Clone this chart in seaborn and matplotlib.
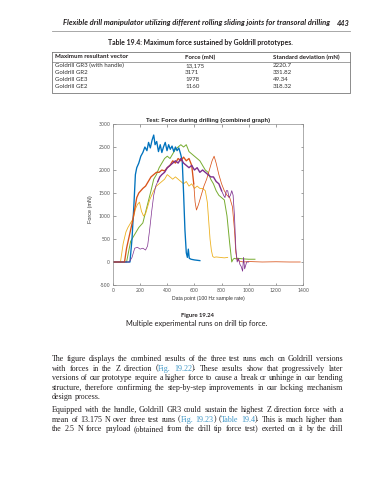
import matplotlib
matplotlib.use("Agg")
import matplotlib.pyplot as plt
import seaborn as sns

#%% page text
header_title = "Flexible drill manipulator utilizing different rolling sliding joints for transoral drilling"
page_number = "443"
table_title = "Table 19.4: Maximum force sustained by Goldrill prototypes."
table_columns = ["Maximum resultant vector", "Force (mN)", "Standard deviation (mN)"]
prototypes = ["Goldrill GR3 (with handle)", "Goldrill GR2", "Goldrill GE3", "Goldrill GE2"]
max_force = ["13,175", "3171", "1978", "1160"]
std_dev = ["2220.7", "331.82", "49.34", "318.32"]

chart_title = "Test: Force during drilling (combined graph)"
x_label = "Data point (100 Hz sample rate)"
y_label = "Force (mN)"
x_ticks = [0, 200, 400, 600, 800, 1000, 1200, 1400]
y_ticks = [-500, 0, 500, 1000, 1500, 2000, 2500, 3000]

fig_label = "Figure 19.24"
fig_caption = "Multiple experimental runs on drill tip force."

# [ ] marks the blue cross-reference links
para1 = ["The figure displays the combined results of the three test runs each on Goldrill versions",
         "with forces in the Z direction ([Fig. 19.22]). These results show that progressively later",
         "versions of our prototype require a higher force to cause a break or unhinge in our bending",
         "structure, therefore confirming the step-by-step improvements in our locking mechanism",
         "design process."]
para2 = ["Equipped with the handle, Goldrill GR3 could sustain the highest Z direction force with a",
         "mean of 13.175 N over three test runs ([Fig. 19.23]) ([Table 19.4]). This is much higher than",
         "the 2.5 N force payload (obtained from the drill tip force test) exerted on it by the drill"]

#%% drill runs
blue_x = [0, 125, 140, 155, 165, 175, 190, 205, 220, 235, 250, 262, 275, 288, 300, 310, 322, 335, 348,
          360, 372, 385, 398, 410, 422, 435, 448, 460, 472, 485, 498, 510, 520, 530, 540, 548, 555,
          562, 575, 600, 640]
blue_y = [0, 0, 500, 1300, 1900, 2050, 2150, 2300, 2380, 2500, 2420, 2600, 2480, 2650, 2760, 2550,
          2620, 2400, 2550, 2380, 2500, 2600, 2420, 2550, 2450, 2520, 2400, 2500, 2420, 2480, 2350,
          2200, 1500, 700, 200, 100, 280, 80, 60, 45, 30]

orange_x = [0, 85, 100, 115, 130, 145, 160, 175, 190, 205, 220, 240, 260, 280, 300, 320, 340, 360,
            380, 400, 420, 440, 460, 480, 500, 520, 540, 560, 580, 595, 605, 615, 630, 650, 670, 690,
            710, 730, 745, 760, 780, 800, 820, 840, 860, 880, 895, 905, 915, 930, 960, 1000, 1100,
            1200, 1300, 1380]
orange_y = [0, 0, 300, 500, 700, 900, 1150, 1400, 1500, 1550, 1600, 1650, 1750, 1850, 1900, 1950,
            1950, 2000, 1980, 2050, 2100, 2200, 2150, 2250, 2200, 2280, 2200, 2250, 2100, 1700, 1300,
            1130, 1250, 1450, 1650, 1800, 2000, 2200, 2300, 2150, 1900, 1700, 1550, 1450, 1400, 1200,
            700, 200, 50, 20, 0, 10, 0, 5, 0, 0]

yellow_x = [0, 55, 75, 95, 110, 130, 150, 165, 180, 195, 210, 225, 240, 255, 270, 285, 300, 320, 340,
            360, 380, 400, 420, 440, 460, 480, 500, 520, 540, 560, 580, 600, 620, 640, 660, 680, 695,
            705, 715, 725, 735, 745, 760, 790, 820, 845]
yellow_y = [0, 0, 400, 650, 750, 850, 950, 1150, 1250, 1300, 1100, 1000, 1050, 1200, 1350, 1450,
            1550, 1650, 1700, 1750, 1800, 1900, 1850, 1800, 1850, 1800, 1750, 1700, 1750, 1650, 1700,
            1600, 1650, 1600, 1600, 1550, 1300, 900, 500, 250, 120, 100, 110, 100, 90, 100]

purple_x = [0, 120, 140, 160, 180, 200, 220, 240, 255, 270, 285, 300, 315, 330, 345, 360, 380, 400,
            420, 440, 460, 480, 500, 520, 540, 560, 580, 600, 620, 640, 660, 680, 700, 720, 740, 760,
            780, 800, 815, 825, 835, 845, 855, 865, 875, 885, 895, 905, 915, 925, 935, 945, 955, 962,
            970, 985, 1000]
purple_y = [0, 0, 100, 300, 320, 280, 300, 260, 350, 700, 1100, 1450, 1650, 1750, 1850, 1900, 1950,
            2050, 2100, 2150, 2200, 2150, 2250, 2150, 2100, 2050, 2100, 2000, 2050, 1950, 2000, 1950,
            1900, 1850, 1850, 1750, 1700, 1550, 1450, 1400, 1550, 1550, 1400, 1450, 1550, 1450, 1000,
            300, 0, 80, -50, -100, -200, 100, -150, 0, 0]

green_x = [0, 100, 130, 160, 190, 220, 250, 280, 300, 320, 340, 360, 380, 400, 420, 440, 460, 480,
           500, 520, 540, 560, 580, 600, 620, 640, 660, 680, 700, 720, 740, 760, 780, 800, 820, 840,
           860, 875, 885, 895, 905, 920, 950, 1000, 1046]
green_y = [0, 0, 450, 600, 750, 850, 1200, 1550, 1800, 1900, 2050, 2150, 2250, 2300, 2250, 2350,
           2450, 2500, 2550, 2500, 2550, 2400, 2350, 2300, 2250, 2200, 2100, 2000, 1950, 1800, 1700,
           1550, 1450, 1400, 1350, 1000, 400, 0, 60, 80, 70, 80, 70, 60, 60]

#%% figure and page layer (1 unit = 1 pixel, y down)
fig = plt.figure(figsize=(3.89, 4.80), dpi=100)
page = fig.add_axes([0, 0, 1, 1])
page.set_xlim(0, 389)
page.set_ylim(480, 0)
page.axis("off")
renderer = fig.canvas.get_renderer()

INK = "#231f20"
LINK = "#3f97c6"
SANS = "Lato"
SERIF = "Liberation Serif"


def width_of(t):
    return t.get_window_extent(renderer).width


def fit(t, width):
    t.set_fontsize(t.get_fontsize() * width / width_of(t))
    return t.get_fontsize()


# running header
fit(page.text(63, 23, header_title, ha="left", va="center", family=SANS, weight="bold",
              style="italic", color=INK, fontsize=6), 267)
fit(page.text(350, 23, page_number, ha="right", va="center", family=SANS, weight="bold",
              style="italic", color=INK, fontsize=6), 13)
page.plot([52, 350], [30.5, 30.5], color="#9a9a9a", lw=0.6)

# table
fit(page.text(200, 42, table_title, ha="center", va="center", family=SANS, weight="bold",
              color=INK, fontsize=6), 186)
col_x = [55, 185, 273]
fs_tab = fit(page.text(col_x[0], 57, table_columns[0], ha="left", va="center", family=SANS,
                       weight="bold", color=INK, fontsize=6), 73)
for cx, name in zip(col_x[1:], table_columns[1:]):
    page.text(cx, 57, name, ha="left", va="center", family=SANS, weight="bold", color=INK,
              fontsize=fs_tab)
for i, (p, f, s) in enumerate(zip(prototypes, max_force, std_dev)):
    yy = 65.5 + 7 * i
    for cx, val in zip(col_x, [p, f, s]):
        page.text(cx, yy, val, ha="left", va="center", family=SANS, color="#333333",
                  fontsize=fs_tab)
page.plot([52, 350, 350, 52, 52], [52, 52, 93, 93, 52], color="#7a7a7a", lw=0.6)
page.plot([52, 350], [61.5, 61.5], color="#7a7a7a", lw=0.5)

# caption
fit(page.text(197, 316, fig_label, ha="center", va="center", family=SANS, weight="bold",
              color=INK, fontsize=6), 33)
fit(page.text(197, 323.5, fig_caption, ha="center", va="center", family=SANS, color=INK,
              fontsize=6), 143)

# body text, justified word by word
TEXT_L, TEXT_R = 52, 343
probe = page.text(0, 0, para1[0], family=SERIF, fontsize=6)
fs_body = fit(probe, 286)
probe.remove()


def draw_line(y, line, justify, link_on):
    placed = []
    for w in line.split(" "):
        pieces, cur = [], ""
        for ch in w:
            if ch in "[]":
                if cur:
                    pieces.append((cur, link_on))
                cur = ""
                link_on = ch == "["
            else:
                cur += ch
        if cur:
            pieces.append((cur, link_on))
        objs = [page.text(0, y, s, ha="left", va="center", family=SERIF, fontsize=fs_body,
                          color=LINK if lk else INK) for s, lk in pieces]
        placed.append((objs, [width_of(o) for o in objs]))
    total = sum(sum(ws) for _, ws in placed)
    gap = (TEXT_R - TEXT_L - total) / (len(placed) - 1) if justify else fs_body * 0.35
    x = TEXT_L
    for objs, ws in placed:
        for o, wd in zip(objs, ws):
            o.set_x(x)
            x += wd
        x += gap
    return link_on


link = False
for i, line in enumerate(para1):
    link = draw_line(359 + 9.6 * i, line, i < len(para1) - 1, link)
for i, line in enumerate(para2):
    link = draw_line(410 + 9.6 * i, line, True, link)

#%% the chart
ax = fig.add_axes([113 / 389, 1 - 285 / 480, 190 / 389, 161 / 480])


def draw_run(xs, ys, col, lw):
    sns.lineplot(x=xs, y=ys, color=col, lw=lw, ax=ax, sort=False, estimator=None)


# noisy stretches look thicker than the quiet ones
draw_run(green_x, green_y, "#77AC30", 0.7)
draw_run(yellow_x, yellow_y, "#EDB120", 0.6)
draw_run(blue_x, blue_y, "#0072BD", 0.95)
draw_run(orange_x[:30], orange_y[:30], "#D95319", 0.95)
draw_run(orange_x[29:], orange_y[29:], "#D95319", 0.55)
draw_run(purple_x[:14], purple_y[:14], "#7E2F8E", 0.5)
draw_run(purple_x[13:38], purple_y[13:38], "#7E2F8E", 1.0)
draw_run(purple_x[37:], purple_y[37:], "#7E2F8E", 0.55)

ax.set_xlim(0, 1400)
ax.set_ylim(-500, 3000)
ax.set_xticks(x_ticks)
ax.set_yticks(y_ticks)
ax.set_yticklabels([str(v) for v in y_ticks])
ax.tick_params(direction="in", top=True, right=True, length=1.8, width=0.4, colors="#555555",
               labelsize=3.4, pad=2)
for sp in ax.spines.values():
    sp.set_color("#8c8c8c")
    sp.set_linewidth(0.5)
ax.set_xlabel(x_label, fontsize=3.7, color="#333333", family="Liberation Sans", labelpad=2)
ax.set_ylabel(y_label, fontsize=3.9, color="#333333", family="Liberation Sans")
ax.yaxis.set_label_coords(-0.105, 0.47)
ax.set_title(chart_title, fontsize=4.2, weight="bold", color="#262626",
             family="Liberation Sans", pad=1.5)

fig.savefig("out.png", dpi=100)
